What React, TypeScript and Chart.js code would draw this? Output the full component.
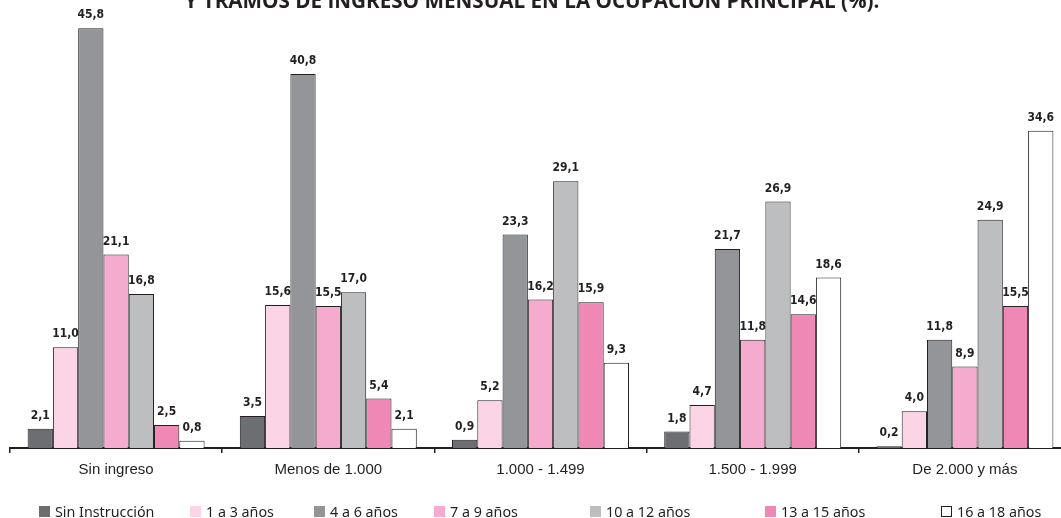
import React, { useEffect, useRef } from "react";
import { Chart, registerables } from "chart.js";

Chart.register(...registerables);

const TITLE = "Y TRAMOS DE INGRESO MENSUAL EN LA OCUPACIÓN PRINCIPAL (%).";
const CATEGORIES = ["Sin ingreso", "Menos de 1.000", "1.000 - 1.499", "1.500 - 1.999", "De 2.000 y más"];
const SERIES_NAMES = ["Sin Instrucción", "1 a 3 años", "4 a 6 años", "7 a 9 años", "10 a 12 años", "13 a 15 años", "16 a 18 años"];
const SIN_INSTRUCCION = [2.1, 3.5, 0.9, 1.8, 0.2];
const ANOS_1_3 = [11.0, 15.6, 5.2, 4.7, 4.0];
const ANOS_4_6 = [45.8, 40.8, 23.3, 21.7, 11.8];
const ANOS_7_9 = [21.1, 15.5, 16.2, 11.8, 8.9];
const ANOS_10_12 = [16.8, 17.0, 29.1, 26.9, 24.9];
const ANOS_13_15 = [2.5, 5.4, 15.9, 14.6, 15.5];
const ANOS_16_18 = [0.8, 2.1, 9.3, 18.6, 34.6];

const SERIES_VALUES = [SIN_INSTRUCCION, ANOS_1_3, ANOS_4_6, ANOS_7_9, ANOS_10_12, ANOS_13_15, ANOS_16_18];
const COLORS = ["#6d6e71", "#fbd5e6", "#939598", "#f5abcd", "#bcbec0", "#f088b5", "#ffffff"];
const INK = "#231f20";

// legend layout (box left edges)
const LEGEND_X = [39, 190, 314, 434, 590, 765, 941];

const fmt = (v: number) => v.toFixed(1).replace(".", ",");

const overlayPlugin = {
  id: "overlay",
  afterDatasetsDraw(chart: any) {
    const ctx = chart.ctx;
    ctx.save();
    ctx.fillStyle = INK;
    ctx.font = "bold 12px 'DejaVu Sans Condensed', 'DejaVu Sans', sans-serif";
    ctx.textAlign = "center";
    ctx.textBaseline = "middle";
    chart.data.datasets.forEach((ds: any, i: number) => {
      const meta = chart.getDatasetMeta(i);
      meta.data.forEach((el: any, j: number) => {
        ctx.fillText(fmt(ds.data[j]), el.x, el.y - 13);
      });
    });
    ctx.restore();
  },
  afterDraw(chart: any) {
    const ctx = chart.ctx;
    ctx.save();
    // title (cut at top)
    ctx.fillStyle = INK;
    ctx.font = "bold 21px 'Open Sans', 'DejaVu Sans', sans-serif";
    ctx.textAlign = "center";
    ctx.textBaseline = "alphabetic";
    ctx.fillText(TITLE, 532, 8, 695);
    // legend
    ctx.font = "14.3px 'Noto Sans', 'Open Sans', sans-serif";
    ctx.textAlign = "left";
    ctx.textBaseline = "middle";
    SERIES_NAMES.forEach((name, i) => {
      const x = LEGEND_X[i];
      ctx.fillStyle = COLORS[i];
      ctx.fillRect(x, 506, 11, 11);
      if (COLORS[i] === "#ffffff") {
        ctx.strokeStyle = INK;
        ctx.lineWidth = 1;
        ctx.strokeRect(x + 0.5, 506.5, 10, 10);
      }
      ctx.fillStyle = INK;
      ctx.fillText(name, x + 16, 512.5);
    });
    ctx.restore();
  },
};

export default function App() {
  const ref = useRef<HTMLCanvasElement | null>(null);
  useEffect(() => {
    if (!ref.current) return;
    const chart = new Chart(ref.current, {
      type: "bar",
      data: {
        labels: CATEGORIES,
        datasets: SERIES_NAMES.map((name, i) => ({
          label: name,
          data: SERIES_VALUES[i],
          backgroundColor: COLORS[i],
          borderColor: INK,
          borderWidth: 1,
          categoryPercentage: 0.834,
          barPercentage: 1,
        })),
      },
      options: {
        responsive: false,
        animation: false,
        layout: { padding: { left: 10, right: 1, top: 8, bottom: 0 } },
        plugins: {
          legend: { display: false },
          title: { display: false },
          tooltip: { enabled: false },
        },
        scales: {
          x: {
            offset: true,
            grid: {
              display: true,
              offset: true,
              drawOnChartArea: false,
              drawTicks: true,
              tickLength: 5,
              color: INK,
              lineWidth: 1.5,
            },
            border: { display: true, color: INK, width: 2 },
            ticks: {
              color: INK,
              padding: 8,
              font: { family: "'Liberation Sans', Arial, sans-serif", size: 15 },
            },
            afterFit: (s: any) => {
              s.height = 70;
            },
          },
          y: {
            display: false,
            min: 0,
            max: 48,
          },
        },
      },
      plugins: [overlayPlugin],
    });
    return () => chart.destroy();
  }, []);
  return (
    <div style={{ position: "absolute", left: 0, top: 0, width: 1061, height: 518, overflow: "hidden", background: "#fff" }}>
      <canvas ref={ref} width={1072} height={518} style={{ display: "block" }} />
    </div>
  );
}
